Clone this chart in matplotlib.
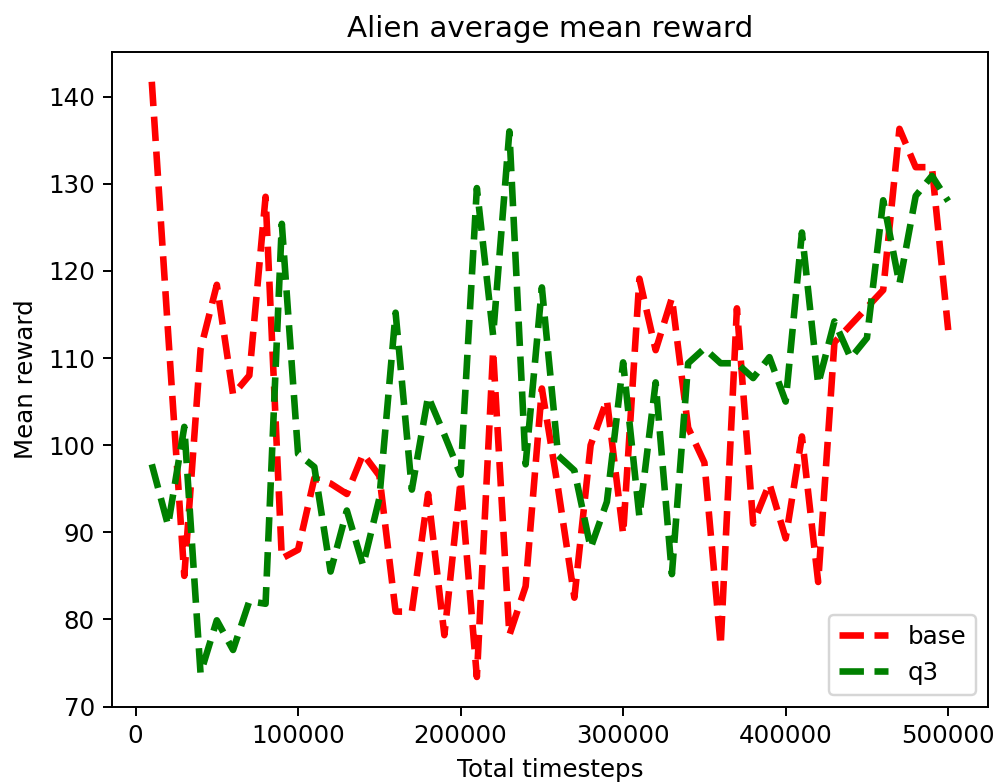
import matplotlib
matplotlib.use('Agg')
import matplotlib.pyplot as plt

# Mean reward per evaluation step for each agent
timesteps = list(range(10000, 500001, 10000))

base = [141.7, 113.0, 85.0, 111.0, 118.4, 105.8, 108.0, 128.5, 87.0, 88.0,
        96.2, 95.6, 94.4, 99.0, 96.5, 80.9, 80.9, 94.4, 78.2, 95.9,
        73.4, 110.8, 78.2, 83.8, 106.5, 95.0, 82.5, 100.0, 105.2, 89.8,
        119.1, 110.9, 116.9, 102.0, 98.0, 77.0, 115.7, 91.0, 95.6, 89.3,
        101.0, 84.3, 111.8, 113.8, 115.8, 117.8, 136.3, 131.9, 131.9, 113.2]

q3 = [97.8, 90.8, 102.1, 73.8, 79.9, 76.5, 82.1, 81.8, 125.4, 99.0,
      97.5, 85.5, 92.5, 86.2, 93.9, 115.2, 94.9, 105.6, 101.2, 96.6,
      129.5, 112.6, 136.0, 97.8, 118.1, 98.8, 97.1, 88.2, 93.5, 109.5,
      91.8, 107.2, 85.2, 109.4, 111.1, 109.4, 109.4, 107.7, 110.1, 105.0,
      124.4, 107.0, 114.2, 110.0, 112.3, 128.1, 118.5, 128.6, 130.9, 128.0]

dpi = 176
fig, ax = plt.subplots(figsize=(998 / dpi, 783 / dpi), dpi=dpi)
fig.subplots_adjust(left=0.1122, right=0.990, bottom=0.0974, top=0.9336)

ax.plot(timesteps, base, 'r--', linewidth=2.7, label='base')
ax.plot(timesteps, q3, 'g--', linewidth=2.7, label='q3')

ax.set_title('Alien average mean reward')
ax.set_xlabel('Total timesteps')
ax.set_ylabel('Mean reward')
ax.legend(loc='lower right')

fig.savefig('out.png', dpi=dpi)
